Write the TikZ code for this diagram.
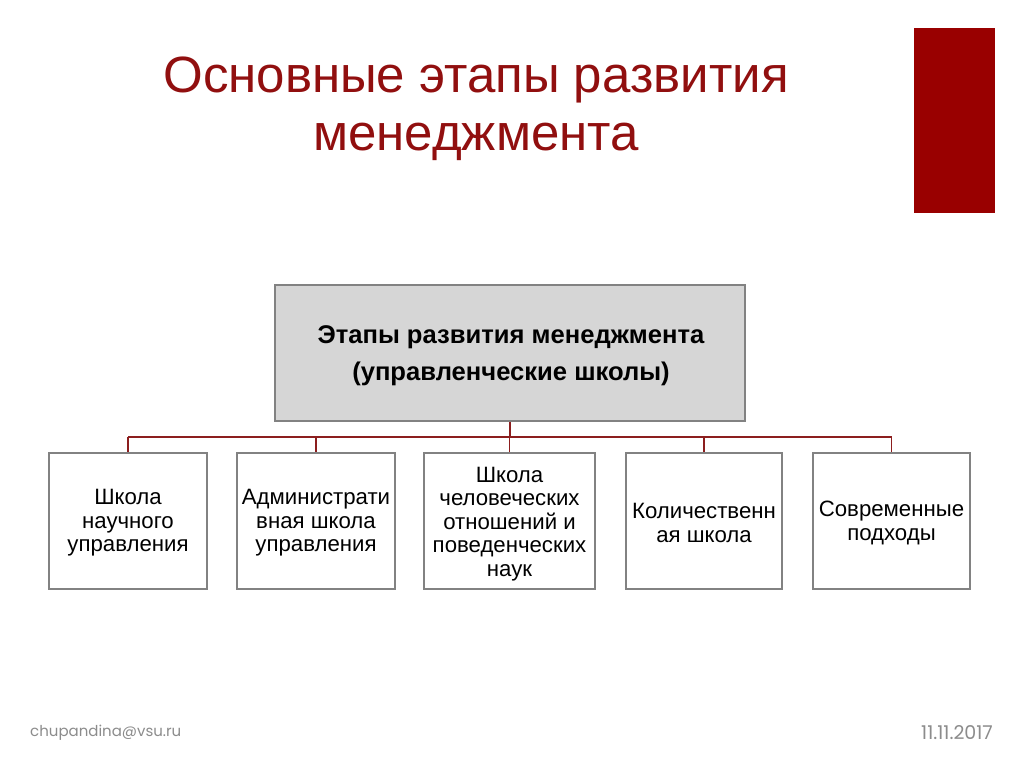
\documentclass[tikz,border=0pt]{standalone}
\usepackage{fontspec}
\setmainfont{Liberation Sans}
\newfontfamily\footfont{Poppins}
\definecolor{titlered}{RGB}{145,15,15}
\definecolor{barred}{RGB}{153,0,0}
\definecolor{linkred}{RGB}{140,30,30}
\definecolor{boxgray}{RGB}{214,214,214}
\definecolor{edgegray}{RGB}{130,130,130}
\definecolor{footgray}{RGB}{140,140,140}
\tikzset{
  child/.style={draw=edgegray, line width=1.2pt, fill=white, minimum width=158pt, minimum height=136pt, inner sep=0pt},
  childtext/.style={align=center, font=\fontsize{22.2}{23.6}\selectfont, inner sep=0pt},
  link/.style={draw=linkred, line width=1.1pt},
  foot/.style={font=\footfont\fontsize{15}{16}\selectfont, text=footgray, inner sep=0pt}
}
\begin{document}
\begin{tikzpicture}[x=1pt,y=-1pt]
\useasboundingbox (0,0) rectangle (1024,767);
\fill[white] (0,0) rectangle (1024,767);
% red bar
\fill[barred] (914,28) rectangle (995,213);
% title
\node[text=titlered, align=center, font=\fontsize{51}{58}\selectfont, inner sep=0pt] (title) at (476,109) {Основные этапы развития\\менеджмента};
% top box
\node[draw=edgegray, line width=1.2pt, fill=boxgray, minimum width=470pt, minimum height=136pt, inner sep=0pt] (top) at (510,353) {};
\node[align=center, inner sep=0pt, font=\bfseries\fontsize{25.6}{37}\selectfont] (toptext) at (511,356) {Этапы развития менеджмента\\(управленческие школы)};
% children
\node[child] (c1) at (128,521) {};
\node[child] (c2) at (316,521) {};
\node[child, minimum width=171pt] (c3) at (509.5,521) {};
\node[child, minimum width=156pt] (c4) at (704,521) {};
\node[child, minimum width=157pt] (c5) at (891.5,521) {};
\node[childtext] (t1) at (128,523) {Школа\\научного\\управления};
\node[childtext] (t2) at (316,523) {Администрати\\вная школа\\управления};
\node[childtext] (t3) at (509.5,524) {Школа\\человеческих\\отношений и\\поведенческих\\наук};
\node[childtext] (t4) at (704,523) {Количественн\\ая школа};
\node[childtext] (t5) at (891.5,523) {Современные\\подходы};
% connectors
\coordinate (bus) at (510,437);
\draw[link] (top.south) -- (bus);
\draw[link] (c1.north |- bus) -- (c5.north |- bus);
\foreach \c in {c1,c2,c3,c4,c5} \draw[link] (\c.north |- bus) -- (\c.north);
% footer
\node[foot, anchor=west] (mail) at (30,733) {chupandina@vsu.ru};
\node[foot, anchor=east, font=\footfont\fontsize{19}{20}\selectfont] (date) at (993,733) {11.11.2017};
\end{tikzpicture}
\end{document}
